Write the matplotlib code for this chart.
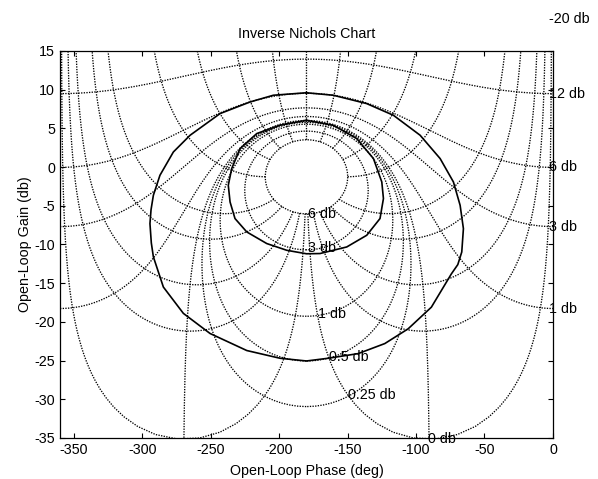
import numpy as np
import matplotlib
matplotlib.use('Agg')
import matplotlib.pyplot as plt

plt.rcParams['font.family'] = ['Liberation Sans', 'DejaVu Sans']
plt.rcParams['axes.unicode_minus'] = False

# closed-loop magnitude contours (db) and closed-loop phase contours (deg)
M_LEVELS = [6, 3, 1, 0.5, 0.25, 0, -1, -3, -6, -12, -20]
PHASE_LEVELS = [1, 5, 10, 20, 30, 60, 90, 120, 150, 180,
                210, 240, 270, 300, 330, 340, 350, 355, 359]

# labels on the right edge (contours crossing 0 deg)
RIGHT_LABEL_M = [-20, -12, -6, -3, -1]
RIGHT_LABELS = ['-20 db', '12 db', '6 db', '3 db', '1 db']

# labels under the closed loops
BOTTOM_LABELS = ['6 db', '3 db', '1 db', '0.5 db', '0.25 db', '0 db']
BOTTOM_X = [-178.6, -178.6, -171.5, -163.7, -149.6, -91.0]
BOTTOM_Y = [-6.0, -10.5, -19.0, -24.6, -29.5, -35.1]

# solid loops (phase deg, gain db)
OUTER_PHASE = [-180, -160.4, -136.0, -116.5, -97.0, -82.4, -72.7, -67.8, -65.4,
               -66.6, -69.5, -74.2, -88.8, -105.8, -122.8, -142.3, -164.2, -180,
               -199.3, -223.6, -250.4, -269.9, -284.5, -291.8, -293.3, -294.3,
               -293.5, -291.8, -287.0, -277.2, -265.0, -243.1, -221.2, -204.2, -180]
OUTER_GAIN = [9.6, 9.28, 8.2, 6.69, 4.11, 1.1, -1.92, -4.94, -7.95,
              -10.97, -12.6, -13.8, -18.1, -20.9, -22.8, -24.1, -24.7, -25.05,
              -24.7, -23.7, -21.5, -18.9, -15.5, -11.6, -9.8, -7.3,
              -5.5, -3.64, -1.06, 1.95, 4.11, 6.91, 8.41, 9.28, 9.6]

MID_PHASE = [-180, -160.4, -143.3, -131.1, -125.0, -123.8, -126.3, -136.0, -150.6,
             -170.1, -180, -194.4, -209.0, -223.6, -232.2, -235.8, -237.1, -234.6,
             -228.5, -216.3, -199.6, -180]
MID_GAIN = [6.05, 5.40, 3.68, 1.1, -1.92, -4.07, -6.65, -8.81, -10.32,
            -11.17, -11.2, -10.75, -9.88, -8.38, -6.65, -4.51, -2.35, -0.19,
            2.39, 4.33, 5.4, 6.05]

FS = 10.3


def to_nichols(h):
    """complex -> (phase in [-360, 0], gain db)"""
    ph = np.degrees(np.angle(h))
    ph = np.where(ph > 0, ph - 360, ph)
    with np.errstate(divide='ignore'):
        g = 20 * np.log10(np.abs(h))
    return ph, g


fig = plt.figure(figsize=(5.98, 4.79), dpi=100)
ax = fig.add_axes([0.1003, 0.0856, 0.8244, 0.808])

dot = dict(color='black', linewidth=0.95, linestyle=(0, (1, 1.0)))

# |1 + H| = 1/M circles
theta = np.linspace(1e-4, 2 * np.pi - 1e-4, 2000)
for m in M_LEVELS:
    r = 10 ** (-m / 20)
    ph, g = to_nichols(-1 + r * np.exp(1j * theta))
    ax.plot(ph, g, **dot)

# constant closed-loop phase rays, starting on the 6 db circle
t = np.logspace(np.log10(0.5), 3, 1500)
for p in PHASE_LEVELS:
    ph, g = to_nichols(-1 + t * np.exp(1j * np.radians(p)))
    ax.plot(ph, g, **dot)

ax.plot(OUTER_PHASE, OUTER_GAIN, color='black', linewidth=1.2)
ax.plot(MID_PHASE, MID_GAIN, color='black', linewidth=1.2)

for m, lab in zip(RIGHT_LABEL_M, RIGHT_LABELS):
    yy = 20 * np.log10(10 ** (-m / 20) - 1)
    ax.text(-3, yy, lab, ha='left', va='center', fontsize=FS, clip_on=False)

for x, y, lab in zip(BOTTOM_X, BOTTOM_Y, BOTTOM_LABELS):
    ax.text(x, y, lab, ha='left', va='center', fontsize=FS, clip_on=False)

ax.set_xlim(-360, 0)
ax.set_ylim(-35, 15)
ax.set_xticks(np.arange(-350, 1, 50))
ax.set_yticks(np.arange(-35, 16, 5))
ax.tick_params(direction='in', top=True, right=True, length=3.5,
               labelsize=FS, width=0.8)
for s in ax.spines.values():
    s.set_linewidth(0.9)

ax.set_title('Inverse Nichols Chart', fontsize=FS, pad=9)
ax.set_xlabel('Open-Loop Phase (deg)', fontsize=FS, labelpad=5)
ax.set_ylabel('Open-Loop Gain (db)', fontsize=FS, labelpad=2)

fig.savefig('out.png', dpi=100, facecolor='white')
